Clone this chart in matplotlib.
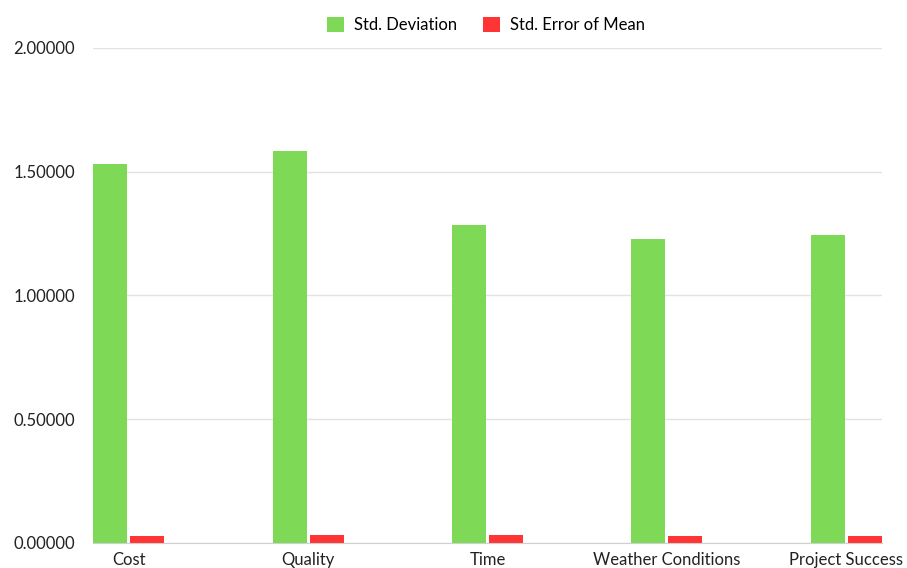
import numpy as np
import matplotlib.pyplot as plt
from matplotlib.ticker import FuncFormatter

plt.rcParams['font.family'] = ['Lato', 'DejaVu Sans']

categories = ['Cost', 'Quality', 'Time', 'Weather Conditions', 'Project Success']
std_dev = [1.531, 1.585, 1.285, 1.227, 1.244]
std_err = [0.027, 0.031, 0.031, 0.027, 0.029]
y_ticks = [0.0, 0.5, 1.0, 1.5, 2.0]

green = '#7ED957'
red = '#FF3434'

fig = plt.figure(figsize=(9.07, 5.68), dpi=100)
# axes box in pixel units of the 907x568 canvas
ax = fig.add_axes([93 / 907, 25.3 / 568, 789 / 907, 494.7 / 568])

x = np.arange(len(categories))
w = 0.19
off = 0.103
ax.bar(x - off, std_dev, width=w, color=green, label='Std. Deviation', zorder=3)
ax.bar(x + off, std_err, width=w, color=red, label='Std. Error of Mean', zorder=3)

ax.set_xlim(-0.2, len(categories) - 0.8)
ax.set_ylim(0, 2.0)
ax.set_yticks(y_ticks)
ax.yaxis.set_major_formatter(FuncFormatter(lambda v, p: f'{v:.5f}'))
ax.set_xticks(x)
ax.set_xticklabels(categories)

ax.grid(axis='y', color='#e3e3e3', linewidth=1, zorder=0)
for s in ['top', 'right', 'left']:
    ax.spines[s].set_visible(False)
ax.spines['bottom'].set_color('#d0d0d0')
ax.spines['bottom'].set_zorder(4)
ax.tick_params(axis='both', length=0, labelsize=12, colors='#222222')
ax.tick_params(axis='y', pad=13)
ax.tick_params(axis='x', pad=7)

# legend centred above the plot
ax.legend(loc='center', bbox_to_anchor=(0.498, (568 - 25 - 25.3) / 494.7),
          ncol=2, frameon=False, fontsize=12, handlelength=1.0, handleheight=1.0,
          handletextpad=0.6, columnspacing=1.6)

fig.savefig('out.png', dpi=100)
